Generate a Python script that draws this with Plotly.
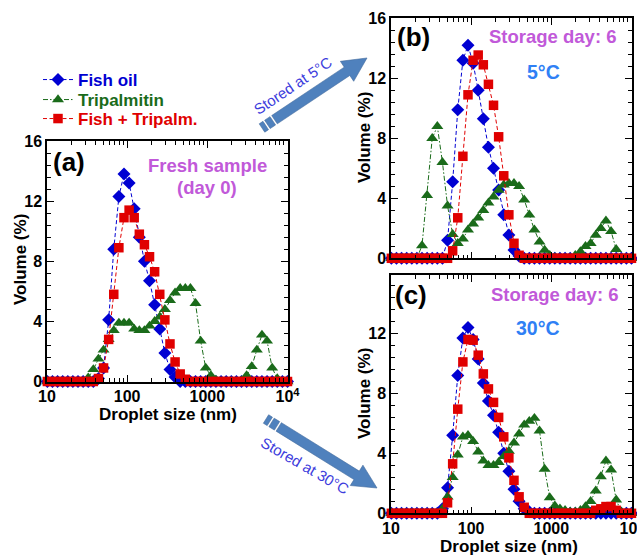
import math
import plotly.graph_objects as go

# ---------------- data ----------------
sizes = [10.10, 11.70, 13.54, 15.69, 18.17, 21.04, 24.36, 28.21, 32.67, 37.84,
         43.82, 50.75, 58.77, 68.06, 78.82, 91.28, 105.7, 122.4, 141.8, 164.2,
         190.1, 220.2, 255.0, 295.3, 342.0, 396.1, 458.7, 531.2, 615.1, 712.4,
         825.0, 955.4, 1106, 1281, 1484, 1718, 1990, 2305, 2669, 3091,
         3580, 4145, 4801, 5560, 6439, 7456, 8635, 10000]

# (a) fresh sample, day 0
fish_a = [0, 0, 0, 0, 0, 0, 0, 0, 0, 0,
          0.2, 0.9, 4.1, 8.8, 12.3, 13.8, 13.2, 11.5, 9.6, 8.0,
          6.7, 5.1, 3.5, 1.9, 0.8, 0.3, 0, 0, 0, 0,
          0, 0, 0, 0, 0, 0, 0, 0, 0, 0,
          0, 0, 0, 0, 0, 0, 0, 0]
trip_a = [0, 0, 0, 0, 0, 0, 0, 0, 0.25, 0.8,
          1.5, 2.1, 2.8, 3.4, 3.9, 3.9, 3.9, 3.5, 3.4, 3.4,
          3.7, 4.0, 4.3, 4.8, 5.4, 5.9, 6.2, 6.2, 6.2, 5.2,
          2.7, 0.9, 0.4, 0.1, 0, 0, 0, 0, 0.05, 0.4,
          1.0, 2.1, 3.1, 2.7, 0.9, 0.2, 0, 0]
mix_a = [0, 0, 0, 0, 0, 0, 0, 0, 0, 0,
         0.2, 0.9, 2.8, 5.8, 8.9, 10.9, 11.4, 10.9, 9.8, 9.1,
         8.3, 7.3, 5.8, 4.1, 2.5, 1.3, 0.5, 0.15, 0, 0,
         0, 0, 0, 0, 0, 0, 0, 0, 0, 0,
         0, 0, 0, 0, 0, 0, 0, 0]

# (b) day 6, 5 C
fish_b = [0, 0, 0, 0, 0, 0, 0, 0, 0, 0,
          0, 1.2, 5.1, 9.9, 13.2, 14.2, 13.0, 11.2, 9.3, 7.4,
          6.0, 4.55, 2.9, 1.55, 0.55, 0.15, 0, 0, 0, 0,
          0, 0, 0, 0, 0, 0, 0, 0, 0, 0,
          0, 0, 0, 0, 0, 0, 0, 0]
trip_b = [0, 0, 0, 0, 0, 0, 0.85, 4.2, 8.0, 8.8,
          6.4, 3.5, 1.6, 1.0, 1.3, 1.9, 2.3, 2.7, 3.2, 3.7,
          4.1, 4.55, 4.9, 5.0, 5.0, 4.8, 3.9, 2.9, 1.9, 1.1,
          0.55, 0.2, 0.05, 0, 0, 0, 0.2, 0.45, 0.8, 1.0,
          1.55, 2.0, 2.5, 1.8, 0.6, 0, 0, 0]
mix_b = [0, 0, 0, 0, 0, 0, 0, 0, 0, 0,
         0, 0, 0.5, 2.7, 6.8, 10.9, 13.2, 13.55, 12.9, 11.6,
         10.2, 8.1, 5.5, 2.9, 1.0, 0.2, 0, 0, 0, 0,
         0, 0, 0, 0, 0, 0, 0, 0, 0, 0,
         0, 0, 0, 0, 0, 0, 0, 0]

# (c) day 6, 30 C
fish_c = [0, 0, 0, 0, 0, 0, 0, 0, 0, 0,
          0.3, 1.7, 5.2, 9.2, 11.7, 12.4, 11.6, 10.3, 8.7, 7.5,
          6.55, 5.4, 4.0, 2.8, 1.6, 0.8, 0.3, 0.1, 0, 0,
          0, 0, 0, 0, 0, 0, 0, 0, 0, 0,
          0, 0, 0, 0, 0, 0, 0, 0]
trip_c = [0, 0, 0, 0, 0, 0, 0, 0, 0, 0,
          0.3, 1.1, 2.4, 3.9, 5.1, 5.2, 4.8, 4.1, 3.5, 3.2,
          3.2, 3.4, 3.8, 4.15, 4.7, 5.3, 5.9, 6.15, 6.35, 5.5,
          2.95, 1.05, 0.5, 0.3, 0.2, 0.1, 0.1, 0.2, 0.45, 0.8,
          1.5, 2.45, 3.5, 2.9, 0.9, 0.1, 0, 0]
mix_c = [0, 0, 0, 0, 0, 0, 0, 0, 0, 0,
         0, 0.7, 3.3, 6.95, 10.1, 11.6, 11.55, 10.55, 9.3, 8.3,
         7.4, 6.4, 5.1, 3.7, 2.2, 1.1, 0.4, 0, 0, 0,
         0, 0, 0, 0, 0, 0, 0, 0, 0, 0,
         0.2, 0.3, 0.45, 0.45, 0.2, 0, 0, 0]

series_names = ["Fish oil", "Tripalmitin", "Fish + Tripalm."]
x_tick_vals = [10, 100, 1000, 10000]
x_tick_text = ["10", "100", "1000", "10<sup>4</sup>"]
y_tick_vals = [0, 4, 8, 12, 16]
y_tick_vals_c = [0, 4, 8, 12]

# ---------------- style ----------------
W, H = 637, 555
FONT = "Liberation Sans, Arial, sans-serif"
BLUE = "#0000d2"
GREEN = "#1a6b1a"
RED = "#e00000"
PURPLE = "#c159d9"
LBLUE = "#2f80f5"
ARROW = "#4f81bd"
ATEXT = "#3c3cdc"

def px(x):
    return x / W

def py(y):
    return 1 - y / H

styles = [
    dict(color=BLUE, symbol="diamond", size=10, dash="4px,2.5px"),
    dict(color=GREEN, symbol="triangle-up", size=10.5, dash="5px,2px,1.5px,2px"),
    dict(color=RED, symbol="square", size=9.5, dash="4px,2.5px"),
]
legend_ids = ["legend", "legend2", "legend3"]
legend_rows = [80, 100, 119]

fig = go.Figure()
panels = [("x", "y", [fish_a, trip_a, mix_a], True),
          ("x2", "y2", [fish_b, trip_b, mix_b], False),
          ("x3", "y3", [fish_c, trip_c, mix_c], False)]
for xa, ya, data, show in panels:
    for name, vals, st, lid in zip(series_names, data, styles, legend_ids):
        fig.add_trace(go.Scatter(
            x=sizes, y=vals, xaxis=xa, yaxis=ya,
            mode="lines+markers", cliponaxis=False,
            name=f"<span style='color:{st['color']}'>{name}</span>",
            showlegend=show, legend=lid,
            line=dict(color=st["color"], width=1, dash=st["dash"]),
            marker=dict(color=st["color"], symbol=st["symbol"], size=st["size"],
                        line=dict(width=0)),
        ))

tickfont = dict(family=FONT, size=16, color="black", weight="bold")

def xaxis(domain, anchor, labels):
    return dict(type="log", range=[1, 4], domain=domain, anchor=anchor,
                showline=True, linecolor="black", linewidth=1.5, mirror="ticks",
                ticks="inside", ticklen=7, tickwidth=1.3, tickcolor="black",
                tickmode="array", tickvals=x_tick_vals, ticktext=x_tick_text,
                showticklabels=labels, tickfont=tickfont, showgrid=False,
                zeroline=False, automargin=False, ticklabeloverflow="allow",
                minor=dict(ticks="inside", ticklen=4, tickwidth=1,
                           tickcolor="black", dtick="D1", showgrid=False))

def yaxis(domain, anchor, rng, tv):
    return dict(range=rng, domain=domain, anchor=anchor,
                showline=True, linecolor="black", linewidth=1.5, mirror="ticks",
                ticks="inside", ticklen=7, tickwidth=1.3, tickcolor="black",
                tickmode="array", tickvals=tv, tickfont=tickfont,
                showgrid=False, zeroline=False, automargin=False,
                minor=dict(ticks="inside", ticklen=4, tickwidth=1,
                           tickcolor="black", tick0=0, dtick=0.8, showgrid=False))

dom_xa = [px(47), px(287.5)]
dom_xb = [px(391), px(631.5)]
dom_ya = [py(381.5), py(141)]
dom_yb = [py(258.3), py(18.3)]
dom_yc = [py(513.3), py(275)]

legend_font = dict(family=FONT, size=17, weight="bold")
legends = {}
for lid, row in zip(legend_ids, legend_rows):
    legends[lid] = dict(x=px(38), y=py(row), xanchor="left", yanchor="middle",
                        bgcolor="rgba(0,0,0,0)", borderwidth=0,
                        font=legend_font)

fig.update_layout(
    width=W, height=H,
    margin=dict(l=0, r=0, t=0, b=0),
    paper_bgcolor="white", plot_bgcolor="white",
    font=dict(family=FONT, color="black"),
    xaxis=xaxis(dom_xa, "y", True),
    yaxis=yaxis(dom_ya, "x", [0, 16], y_tick_vals),
    xaxis2=xaxis(dom_xb, "y2", False),
    yaxis2=yaxis(dom_yb, "x2", [0, 16], y_tick_vals),
    xaxis3=xaxis(dom_xb, "y3", True),
    yaxis3=yaxis(dom_yc, "x3", [0, 15.9], y_tick_vals_c),
    showlegend=True,
    **legends,
)

annotations = []

def text(x, y, s, size, color, bold=True, angle=0, family=FONT):
    annotations.append(dict(
        xref="paper", yref="paper", x=px(x), y=py(y), text=s, showarrow=False,
        xanchor="center", yanchor="middle", textangle=angle,
        font=dict(family=family, size=size, color=color,
                  weight="bold" if bold else "normal")))

# axis titles
text(20, 260, "Volume (%)", 17, "black", angle=-90)
text(364, 138, "Volume (%)", 17, "black", angle=-90)
text(364, 394, "Volume (%)", 17, "black", angle=-90)
text(168, 414, "Droplet size (nm)", 17, "black")
text(509, 546, "Droplet size (nm)", 17, "black")

# panel labels and notes
text(69, 162, "(a)", 26, "black")
text(208, 165, "Fresh sample", 18.5, PURPLE)
text(207, 187, "(day 0)", 18.5, PURPLE)
text(413, 37, "(b)", 26, "black")
text(553, 37, "Storage day: 6", 18.5, PURPLE)
text(543, 72, "5°C", 19.5, LBLUE)
text(411, 295, "(c)", 26, "black")
text(555, 294, "Storage day: 6", 18.5, PURPLE)
text(538, 328, "30°C", 19.5, LBLUE)

# arrow labels
text(293, 86, "Stored at 5°C", 15, ATEXT, bold=False, angle=-34)
text(305, 465, "Stored at 30°C", 15, ATEXT, bold=False, angle=30)

fig.update_layout(annotations=annotations)

# block arrows (decorative shapes, pixel geometry -> paper coords)
def block_arrow(tail, tip, w=5, hw=12, hl=24):
    dx, dy = tip[0] - tail[0], tip[1] - tail[1]
    L = math.hypot(dx, dy)
    ux, uy = dx / L, dy / L
    nx, ny = -uy, ux
    def pt(t, s):
        return (tail[0] + ux * t + nx * s, tail[1] + uy * t + ny * s)
    def path(points):
        return "M " + " L ".join(f"{px(a):.5f},{py(b):.5f}" for a, b in points) + " Z"
    shapes = []
    for t0, t1 in [(0, 4.5), (6.5, 13)]:
        shapes.append(path([pt(t0, -w), pt(t1, -w), pt(t1, w), pt(t0, w)]))
    shapes.append(path([pt(15, -w), pt(L - hl, -w), pt(L - hl, -hw), pt(L, 0),
                        pt(L - hl, hw), pt(L - hl, w), pt(15, w)]))
    return [dict(type="path", xref="paper", yref="paper", path=p,
                 fillcolor=ARROW, line=dict(color="#41699c", width=0.6),
                 layer="above") for p in shapes]

shapes = block_arrow((262, 128), (367, 58)) + block_arrow((266, 419), (377, 488))
fig.update_layout(shapes=shapes)

fig.write_html("out.html", config={"displayModeBar": False},
               post_script="document.body.style.margin='0px';")
